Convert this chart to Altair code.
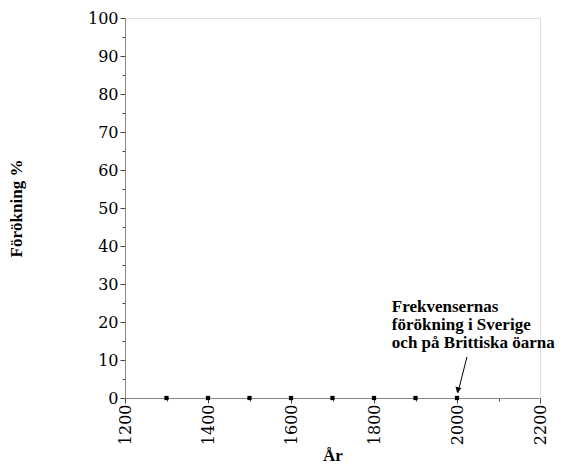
import altair as alt
import pandas as pd

years = [1300, 1400, 1500, 1600, 1700, 1800, 1900, 2000]
values = [0, 0, 0, 0, 0, 0, 0, 0]

x_ticks = list(range(1200, 2201, 100))
y_ticks = list(range(0, 101, 5))

note_lines = ["Frekvensernas", "förökning i Sverige", "och på Brittiska öarna"]
note_x = [1843]
note_y = [22.6]

arrow_x = [2024, 2002]
arrow_y = [10.8, 1.3]

FONT = "Liberation Serif"
LFONT = "DejaVu Serif"

df = pd.DataFrame({"year": years, "value": values})
df_note = pd.DataFrame({"x": note_x, "y": note_y, "t": [note_lines]})
df_arrow = pd.DataFrame({"x": arrow_x, "y": arrow_y})
df_tip = df_arrow.iloc[[1]]

xscale = alt.Scale(domain=[1200, 2200], nice=False, zero=False)
yscale = alt.Scale(domain=[0, 100], nice=False)

xaxis = alt.Axis(
    values=x_ticks,
    labelExpr="datum.value % 200 == 0 ? datum.label : ''",
    format="d",
    labelAngle=-90,
    labelAlign="right",
    labelBaseline="middle",
    labelPadding=1,
    labelFont=LFONT,
    labelFontSize=16,
    tickSize={"condition": {"test": "datum.value % 200 == 0", "value": 5}, "value": 3},
    title="År",
    titlePadding=3,
    labelOverlap=False,
)
yaxis = alt.Axis(
    values=y_ticks,
    labelExpr="datum.value % 10 == 0 ? datum.label : ''",
    labelPadding=2,
    labelFont=LFONT,
    labelFontSize=16,
    tickSize={"condition": {"test": "datum.value % 10 == 0", "value": 5}, "value": 3},
    title="Förökning %",
    titlePadding=62,
    labelOverlap=False,
)

X = lambda f: alt.X(f, scale=xscale, axis=xaxis)
Y = lambda f: alt.Y(f, scale=yscale, axis=yaxis)

points = alt.Chart(df).mark_square(size=18, color="black", opacity=1).encode(
    x=X("year:Q"), y=Y("value:Q"),
)

note = alt.Chart(df_note).mark_text(
    align="left", baseline="alphabetic", font=FONT, fontSize=17,
    fontWeight="bold", color="black", lineHeight=18,
).encode(x=X("x:Q"), y=Y("y:Q"), text="t")

arrow = alt.Chart(df_arrow).mark_line(color="black", strokeWidth=1).encode(
    x=X("x:Q"), y=Y("y:Q")
)
tip = alt.Chart(df_tip).mark_point(
    shape="triangle-down", size=40, filled=True, color="black", angle=15, opacity=1,
    yOffset=-3,
).encode(x=X("x:Q"), y=Y("y:Q"))

chart = alt.layer(points, arrow, tip, note).properties(
    width=415, height=380,
    autosize=alt.AutoSizeParams(type="none"),
    padding={"left": 117, "top": 10, "right": 30, "bottom": 67},
).configure_view(stroke=None).configure(background="white", font=FONT).configure_axis(
    labelColor="black",
    tickColor="#444",
    domainColor="#888",
    grid=False,
    titleFont=FONT,
    titleFontSize=17,
    titleFontWeight="bold",
    titleColor="black",
)

chart.save("out.html", embed_options={"renderer": "svg", "actions": False})
